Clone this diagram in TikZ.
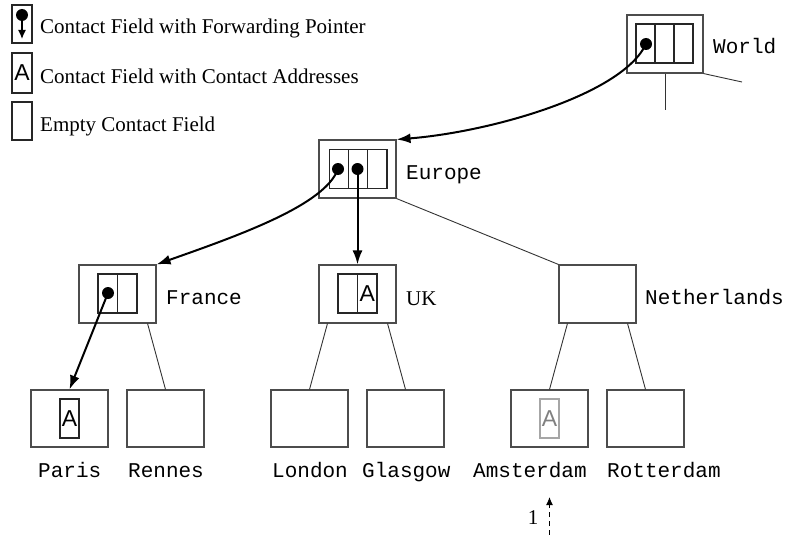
\documentclass[tikz,border=0pt]{standalone}
\usepackage{fontspec}
\setmainfont{Liberation Serif}
\setsansfont{Liberation Sans}
\setmonofont{Liberation Mono}
\usetikzlibrary{arrows.meta,calc}
\definecolor{boxgray}{gray}{0.3}
\begin{document}
\begin{tikzpicture}[x=1pt,y=-1pt,
  box/.style={draw=boxgray,line width=1.1pt,rectangle,inner sep=0pt,minimum width=77pt,minimum height=58pt},
  leaf/.style={box,minimum height=57pt},
  cell/.style={draw=black!85,line width=1.1pt,rectangle,inner sep=0pt,minimum width=19.3pt,minimum height=39pt},
  pdot/.style={circle,fill=black,inner sep=0pt,minimum size=12pt},
  ptr/.style={line width=2pt,-{Latex[length=14pt,width=10pt]}},
  edge/.style={draw=black!80,line width=0.9pt},
  lbl/.style={font=\fontsize{21}{25}\selectfont\ttfamily,anchor=base west,inner sep=0pt},
  ltxt/.style={font=\fontsize{21}{25}\selectfont,anchor=base west,inner sep=0pt},
  afont/.style={font=\fontsize{23}{25}\selectfont\sffamily}
]
\useasboundingbox (0,0) rectangle (787,535);

% ---------- legend ----------
\node[cell,minimum width=20pt,minimum height=38pt] (lg1) at (22,24) {};
\node[pdot] (lgdot) at (22,15) {};
\coordinate (lgtip) at (22,39);
\draw[line width=1.4pt,-{Latex[length=9pt,width=8pt]}] (lgdot.center) -- (lgtip);
\node[cell,afont,minimum width=20pt,minimum height=40pt] (lg2) at (22,73) {A};
\node[cell,minimum width=20pt,minimum height=38pt] (lg3) at (22,121) {};
\node[ltxt] (lt1) at (40,34) {Contact Field with Forwarding Pointer};
\node[ltxt] (lt2) at (40,83) {Contact Field with Contact Addresses};
\node[ltxt] (lt3) at (40,131) {Empty Contact Field};

% ---------- World ----------
\node[box,minimum width=76pt] (world) at (665,44) {};
\node[cell,minimum width=19pt] (w1) at (645.5,43.5) {};
\node[cell,minimum width=19pt] (w2) at (664.5,43.5) {};
\node[cell,minimum width=19pt] (w3) at (683.5,43.5) {};
\node[pdot] (wdot) at (646,44) {};
\node[lbl] (worldl) at (713,54) {World};
\coordinate (wdown) at (665,110);
\coordinate (wright) at (742,82);
\draw[edge] (world.south) -- (wdown);
\draw[edge] (world.south east) -- (wright);

% ---------- Europe ----------
\node[box] (europe) at (357.5,169) {};
\node[cell] (e1) at (338.7,169) {};
\node[cell] (e2) at (358,169) {};
\node[cell] (e3) at (377.3,169) {};
\node[pdot] (edot1) at (338,169) {};
\node[pdot] (edot2) at (357.5,169) {};
\node[lbl] (europel) at (406,179) {Europe};

% ---------- level 2 ----------
\node[box] (france) at (117.5,294) {};
\node[cell,minimum width=19.5pt] (f1) at (107.75,293.5) {};
\node[cell,minimum width=19.5pt] (f2) at (127.25,293.5) {};
\node[pdot] (fdot) at (108,293) {};
\node[lbl] (francel) at (166,304) {France};

\node[box] (uk) at (357.5,294) {};
\node[cell,minimum width=19.5pt] (u1) at (347.75,293.5) {};
\node[cell,afont,minimum width=19.5pt] (u2) at (367.25,293.5) {A};
\node[ltxt] (ukl) at (406,305) {UK};

\node[box] (neth) at (597.5,294) {};
\node[lbl] (nethl) at (645,304) {Netherlands};

% ---------- leaves ----------
\node[leaf] (paris) at (69.5,418.5) {};
\node[cell,afont,minimum width=19pt] (pa) at (69.5,418.5) {A};
\node[leaf] (rennes) at (165.5,418.5) {};
\node[leaf] (london) at (309.5,418.5) {};
\node[leaf] (glasgow) at (405.5,418.5) {};
\node[leaf] (amst) at (549.5,418.5) {};
\node[cell,afont,minimum width=19pt,draw=black!35,text=black!50] (aa) at (549.5,418.5) {A};
\node[leaf] (rott) at (645.5,418.5) {};

\node[lbl] (parisl) at (38,477) {Paris};
\node[lbl] (rennesl) at (128,477) {Rennes};
\node[lbl] (londonl) at (272,477) {London};
\node[lbl] (glasgowl) at (362,477) {Glasgow};
\node[lbl] (amstl) at (473,477) {Amsterdam};
\node[lbl] (rottl) at (607,477) {Rotterdam};

% ---------- tree edges ----------
\draw[edge] (europe.south east) -- (neth.north west);
\draw[edge] ([xshift=-9pt]france.south east) -- (rennes.north);
\draw[edge] ([xshift=9pt]uk.south west) -- (london.north);
\draw[edge] ([xshift=-9pt]uk.south east) -- (glasgow.north);
\draw[edge] ([xshift=9pt]neth.south west) -- (amst.north);
\draw[edge] ([xshift=-9pt]neth.south east) -- (rott.north);

% ---------- forwarding pointers ----------
\draw[ptr] (wdot.center) .. controls (622,95) and (490,132) .. (europe.north east);
\draw[ptr] (edot1.center) .. controls (325,205) and (240,235) .. (france.north east);
\draw[ptr] (edot2.center) -- (uk.north);
\draw[ptr] (fdot.center) -- (paris.north);

% ---------- lookup request ----------
\coordinate (qstart) at (549.5,535);
\coordinate (qtip) at (549.5,497);
\draw[line width=1pt,dash pattern=on 5pt off 4pt,-{Latex[length=8pt,width=7pt]}] (qstart) -- (qtip);
\node[font=\fontsize{21}{25}\selectfont,inner sep=0pt] (one) at (533,518) {1};
\end{tikzpicture}
\end{document}
